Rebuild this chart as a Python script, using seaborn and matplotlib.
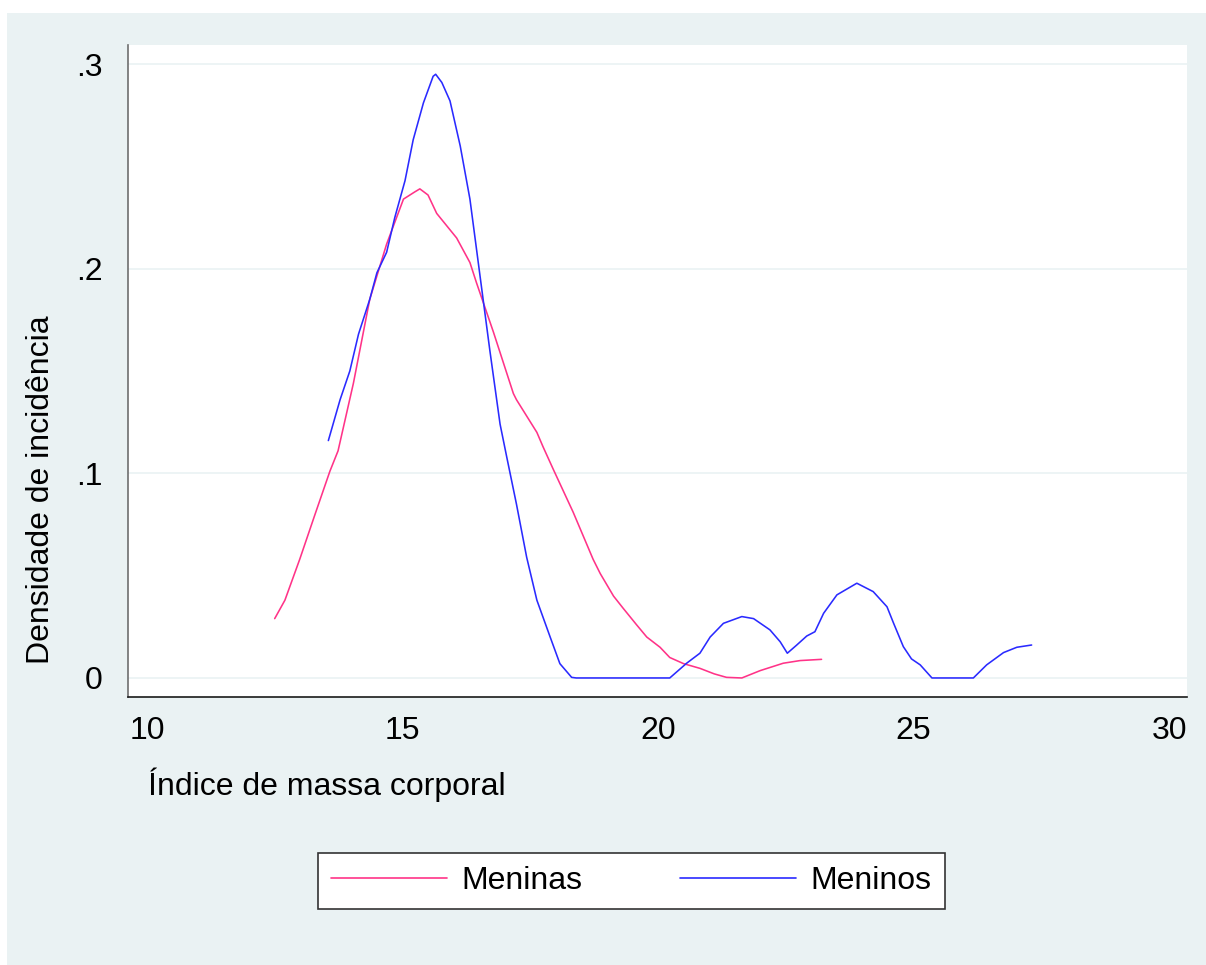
import pandas as pd
import matplotlib.pyplot as plt
import seaborn as sns
from matplotlib.patches import Rectangle

# Curves (kernel density by sex)
imc_meninas = [12.50, 12.70, 12.99, 13.29, 13.58, 13.74, 14.04, 14.36, 14.69, 15.02,
               15.24, 15.34, 15.50, 15.67, 15.93, 16.06, 16.32, 16.45, 16.78, 16.91,
               17.17, 17.23, 17.63, 17.75, 17.95, 18.34, 18.73, 18.87, 19.13, 19.32,
               19.58, 19.78, 20.04, 20.23, 20.50, 20.82, 21.10, 21.34, 21.64, 22.00,
               22.45, 22.78, 23.20]
dens_meninas = [0.029, 0.038, 0.058, 0.080, 0.101, 0.111, 0.144, 0.185, 0.212, 0.234,
                0.2375, 0.239, 0.236, 0.227, 0.219, 0.215, 0.203, 0.193, 0.169, 0.159,
                0.139, 0.136, 0.120, 0.113, 0.102, 0.081, 0.058, 0.051, 0.040, 0.034,
                0.026, 0.020, 0.015, 0.010, 0.007, 0.0047, 0.002, 0.0003, 0.0, 0.0036,
                0.0072, 0.0085, 0.0091]

imc_meninos = [13.55, 13.78, 13.97, 14.14, 14.36, 14.50, 14.69, 14.85, 15.05, 15.21,
               15.41, 15.60, 15.65, 15.77, 15.93, 16.13, 16.32, 16.52, 16.71, 16.91,
               17.04, 17.23, 17.43, 17.63, 17.89, 18.08, 18.31, 18.40, 20.23, 20.56,
               20.82, 21.02, 21.28, 21.64, 21.87, 22.19, 22.39, 22.53, 22.71, 22.91,
               23.07, 23.24, 23.50, 23.89, 24.21, 24.48, 24.61, 24.80, 24.96, 25.13,
               25.36, 26.17, 26.43, 26.76, 27.02, 27.31]
dens_meninos = [0.116, 0.136, 0.150, 0.168, 0.185, 0.198, 0.208, 0.225, 0.243, 0.263,
                0.281, 0.294, 0.295, 0.291, 0.282, 0.260, 0.234, 0.196, 0.160, 0.124,
                0.108, 0.085, 0.059, 0.038, 0.020, 0.007, 0.0003, 0.0, 0.0, 0.0072,
                0.0121, 0.020, 0.0267, 0.030, 0.029, 0.0235, 0.0177, 0.0121, 0.016, 0.0205,
                0.0226, 0.0316, 0.0406, 0.0463, 0.0422, 0.0348, 0.0267, 0.0153, 0.0093, 0.0064,
                0.0, 0.0, 0.0064, 0.0124, 0.015, 0.0161]

x_ticks = [10, 15, 20, 25, 30]
y_ticks = [0, 0.1, 0.2, 0.3]
y_tick_labels = ['0', '.1', '.2', '.3']

df = pd.concat([
    pd.DataFrame({'imc': imc_meninas, 'dens': dens_meninas, 'grupo': 'Meninas'}),
    pd.DataFrame({'imc': imc_meninos, 'dens': dens_meninos, 'grupo': 'Meninos'}),
])

sns.set_style('white')
plt.rcParams['font.family'] = ['Liberation Sans', 'DejaVu Sans']
plt.rcParams['text.color'] = 'black'
plt.rcParams['axes.labelcolor'] = 'black'

FS = 23
W, H = 1206, 965
fig = plt.figure(figsize=(W / 100, H / 100), dpi=100, facecolor='white')
fig.patches.append(Rectangle((7 / W, 0), 1 - 7 / W, 1 - 13 / H, transform=fig.transFigure,
                             facecolor='#EAF2F3', edgecolor='none', zorder=-10))

ax = fig.add_axes([128 / W, 1 - 697 / H, 1059 / W, 652 / H])
ax.set_facecolor('white')

sns.lineplot(data=df, x='imc', y='dens', hue='grupo', estimator=None, sort=False,
             palette={'Meninas': '#FF3388', 'Meninos': '#2A2AFF'}, linewidth=1.15,
             legend=False, ax=ax)

ax.set_xlim(9.63, 30.35)
ax.set_ylim(-0.0093, 0.3093)
ax.set_xticks(x_ticks)
ax.set_xticklabels([str(t) for t in x_ticks])
ax.set_yticks(y_ticks)
ax.set_yticklabels(y_tick_labels)
ax.yaxis.grid(True, color='#EAF2F3', linewidth=1.2)
ax.xaxis.grid(False)

for s in ['top', 'right']:
    ax.spines[s].set_visible(False)
ax.spines['left'].set_color('#6E6E6E')
ax.spines['bottom'].set_color('#1A1A1A')
ax.spines['left'].set_linewidth(1.2)
ax.spines['bottom'].set_linewidth(1.2)

ax.tick_params(axis='both', direction='out', length=9, width=1, color='#6E6E6E',
               labelsize=FS, labelcolor='black')
ax.tick_params(axis='x', pad=5)
ax.tick_params(axis='y', pad=9)

ax.set_xlabel('Índice de massa corporal', fontsize=FS, loc='left')
ax.xaxis.set_label_coords(20 / 1059, -0.108)
ax.set_ylabel('Densidade de incidência', fontsize=FS)
ax.yaxis.set_label_coords(-0.068, 0.3175)

handles = [plt.Line2D([], [], color='#FF3388', linewidth=1.2),
           plt.Line2D([], [], color='#2A2AFF', linewidth=1.2)]
leg = fig.legend(handles, ['Meninas', 'Meninos'], loc='center left',
                 bbox_to_anchor=(318 / W, 1 - 881 / H), ncol=2, fontsize=FS,
                 handlelength=3.63, handletextpad=0.45, columnspacing=3.05,
                 borderpad=0.42, borderaxespad=0, frameon=True, fancybox=False)
leg.get_frame().set_edgecolor('#333333')
leg.get_frame().set_linewidth(1.2)
leg.get_frame().set_facecolor('white')
leg.get_frame().set_alpha(1)

fig.savefig('out.png', dpi=100, facecolor='white')
